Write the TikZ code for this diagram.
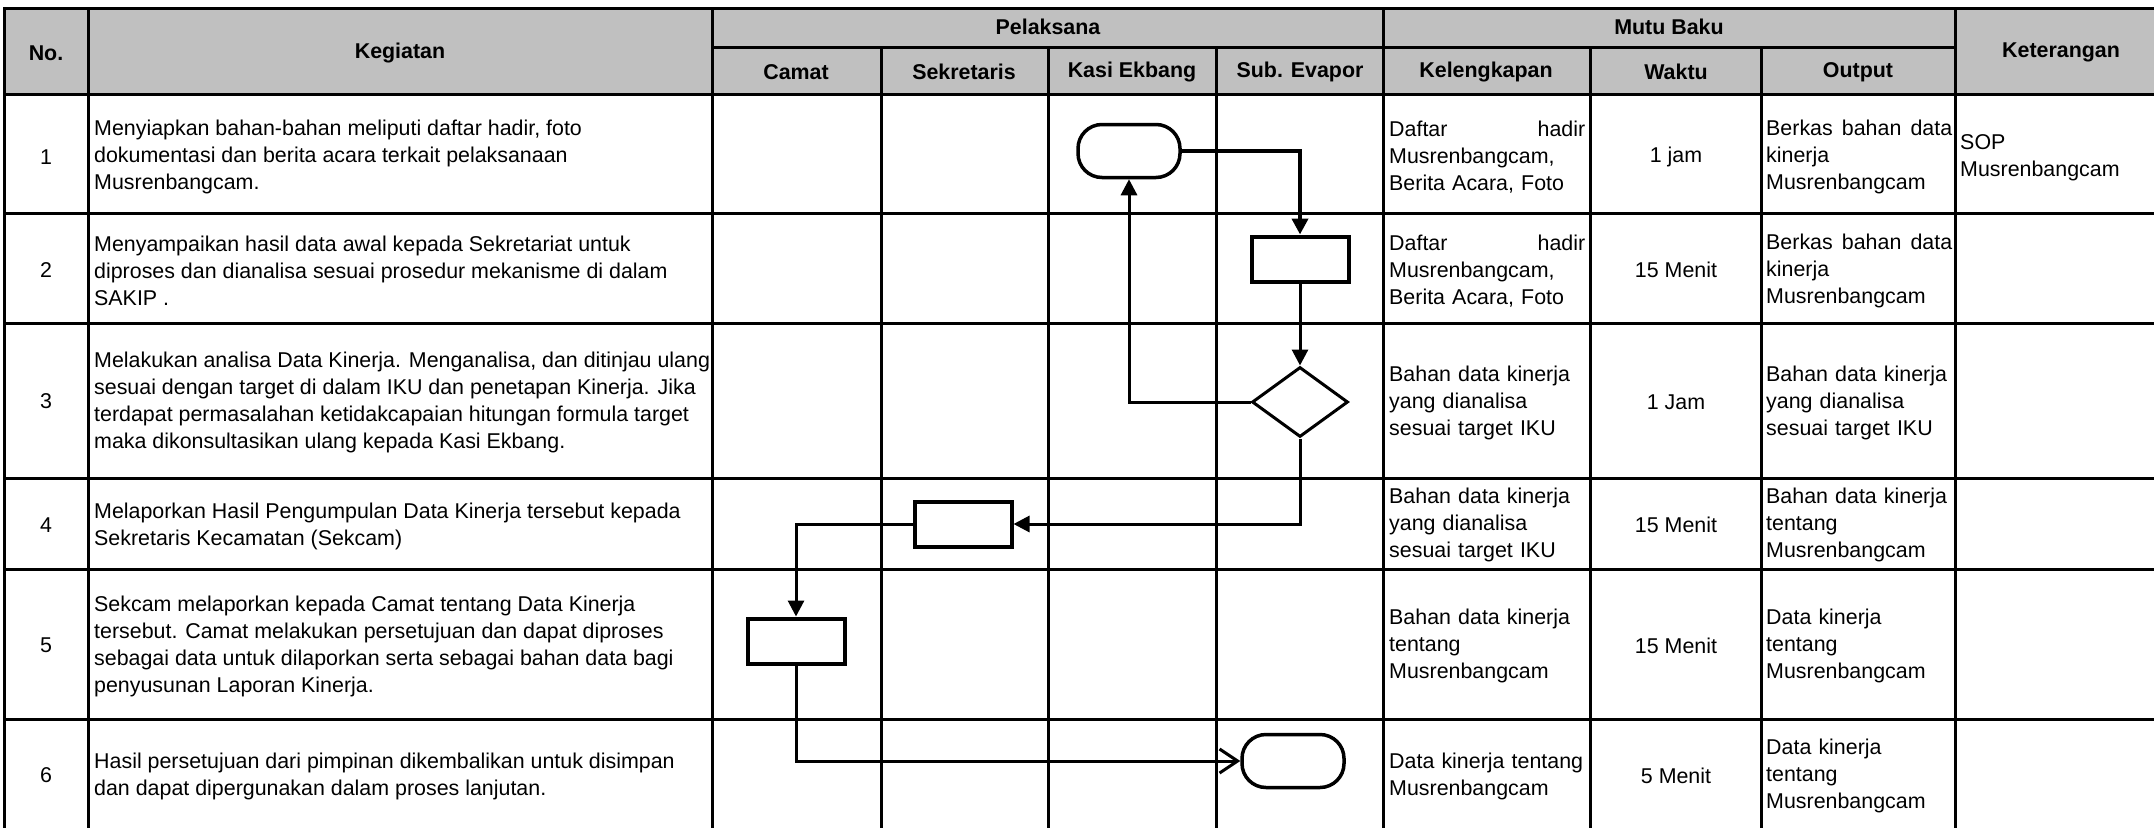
\documentclass[tikz,border=0pt]{standalone}
\usepackage{fontspec}
\setmainfont{Liberation Sans}
\usetikzlibrary{arrows.meta,shapes.geometric}
\definecolor{headgray}{RGB}{192,192,192}
\begin{document}
\begin{tikzpicture}[x=1pt, y=-1pt,
    grid/.style={line width=3pt, line cap=rect},
    txt/.style={font=\fontsize{21.4}{27}\selectfont, inner sep=0pt},
    head/.style={inner sep=0pt, font=\fontsize{21.4}{27}\selectfont\bfseries},
    desc/.style={txt, anchor=west, align=left},
    cell/.style={txt, anchor=west, align=left, text width=#1},
    proc/.style={draw, line width=4pt, minimum width=97pt, minimum height=45pt},
    term/.style={draw, line width=3.5pt, rounded corners=24pt, minimum width=102pt, minimum height=53pt},
    dec/.style={draw, diamond, line width=3pt, minimum width=96pt, minimum height=70pt, inner sep=0pt},
    flow/.style={line width=3pt, -{Triangle[length=16pt,width=16pt]}}]
    \useasboundingbox (0,0) rectangle (2154,827);
    \clip (0,0) rectangle (2154,827);

    % Header
    \fill[headgray] (4.6,8) rectangle (2167,94);
    \draw[grid] (4.6,8) -- (2167,8);
    \draw[grid] (712,47) -- (1955,47);
    \foreach \y in {94,213,323,478,569,719,832} \draw[grid] (4.6,\y) -- (2167,\y);
    \foreach \x in {4.6,88,712,1383,1955,2167} \draw[grid] (\x,8) -- (\x,832);
    \foreach \x in {881,1048,1216,1590,1761} \draw[grid] (\x,47) -- (\x,832);

    \node[head] (hno) at (46,53) {No.};
    \node[head] (hkeg) at (400,53) {Kegiatan};
    \node[head] (hpel) at (1048,27) {Pelaksana};
    \node[head] (hcamat) at (796,72) {Camat};
    \node[head] (hsek) at (964,72) {Sekretaris};
    \node[head] (hkasi) at (1132,72) {Kasi Ekbang};
    \node[head] (hsub) at (1300,72) {Sub. Evapor};
    \node[head] (hmutu) at (1669,27) {Mutu Baku};
    \node[head] (hkel) at (1486,72) {Kelengkapan};
    \node[head] (hwak) at (1676,72) {Waktu};
    \node[head] (hout) at (1858,72) {Output};
    \node[head] (hket) at (2061,52) {Keterangan};

    % No.
    \node[txt] (n1) at (46,157) {1};
    \node[txt] (n2) at (46,270) {2};
    \node[txt] (n3) at (46,401) {3};
    \node[txt] (n4) at (46,525) {4};
    \node[txt] (n5) at (46,645) {5};
    \node[txt] (n6) at (46,775) {6};

    % Kegiatan
    \node[desc] (k1) at (94,157) {Menyiapkan bahan-bahan meliputi daftar hadir, foto\\dokumentasi dan berita acara terkait pelaksanaan\\Musrenbangcam.};
    \node[desc] (k2) at (94,271) {Menyampaikan hasil data awal kepada Sekretariat untuk\\diproses dan dianalisa sesuai prosedur mekanisme di dalam\\SAKIP .};
    \node[desc] (k3) at (94,402) {Melakukan analisa Data Kinerja. Menganalisa, dan ditinjau ulang\\sesuai dengan target di dalam IKU dan penetapan Kinerja. Jika\\terdapat permasalahan ketidakcapaian hitungan formula target\\maka dikonsultasikan ulang kepada Kasi Ekbang.};
    \node[desc] (k4) at (94,526) {Melaporkan Hasil Pengumpulan Data Kinerja tersebut kepada\\Sekretaris Kecamatan (Sekcam)};
    \node[desc] (k5) at (94,646) {Sekcam melaporkan kepada Camat tentang Data Kinerja\\tersebut. Camat melakukan persetujuan dan dapat diproses\\sebagai data untuk dilaporkan serta sebagai bahan data bagi\\penyusunan Laporan Kinerja.};
    \node[desc] (k6) at (94,776) {Hasil persetujuan dari pimpinan dikembalikan untuk disimpan\\dan dapat dipergunakan dalam proses lanjutan.};

    % Kelengkapan
    \node[cell=196pt] (l1) at (1389,157) {Daftar\hfill hadir\\Musrenbangcam,\\Berita Acara, Foto};
    \node[cell=196pt] (l2) at (1389,271) {Daftar\hfill hadir\\Musrenbangcam,\\Berita Acara, Foto};
    \node[cell=196pt] (l3) at (1389,403) {Bahan data kinerja\\yang dianalisa\\sesuai target IKU};
    \node[cell=196pt] (l4) at (1389,525) {Bahan data kinerja\\yang dianalisa\\sesuai target IKU};
    \node[cell=196pt] (l5) at (1389,646) {Bahan data kinerja\\tentang\\Musrenbangcam};
    \node[cell=196pt] (l6) at (1389,776) {Data kinerja tentang\\Musrenbangcam};

    % Waktu
    \node[txt] (w1) at (1676,157) {1 jam};
    \node[txt] (w2) at (1676,270) {15 Menit};
    \node[txt] (w3) at (1676,402) {1 Jam};
    \node[txt] (w4) at (1676,525) {15 Menit};
    \node[txt] (w5) at (1676,646) {15 Menit};
    \node[txt] (w6) at (1676,776) {5 Menit};

    % Output
    \node[cell=186pt] (o1) at (1766,157) {Berkas\hfill bahan\hfill data\\kinerja\\Musrenbangcam};
    \node[cell=186pt] (o2) at (1766,271) {Berkas\hfill bahan\hfill data\\kinerja\\Musrenbangcam};
    \node[cell=186pt] (o3) at (1766,403) {Bahan data kinerja\\yang dianalisa\\sesuai target IKU};
    \node[cell=186pt] (o4) at (1766,525) {Bahan data kinerja\\tentang\\Musrenbangcam};
    \node[cell=186pt] (o5) at (1766,646) {Data kinerja\\tentang\\Musrenbangcam};
    \node[cell=186pt] (o6) at (1766,776) {Data kinerja\\tentang\\Musrenbangcam};

    % Keterangan
    \node[desc] (ket1) at (1960,158) {SOP\\Musrenbangcam};

    % Flow
    \node[term] (start) at (1129,151) {};
    \node[proc] (sub2) at (1300,259) {};
    \node[dec] (cek3) at (1300,402) {};
    \node[proc] (sek4) at (963,524) {};
    \node[proc] (camat5) at (796,641) {};
    \node[term] (end6) at (1293,761) {};

    \draw[flow, line width=4pt] (start.east) -| (sub2.north);
    \draw[flow] (sub2.south) -- (cek3.north);
    \draw[flow] (cek3.west) -| (start.south);
    \draw[flow] (cek3.south) |- (sek4.east);
    \draw[flow] (sek4.west) -| (camat5.north);
    \draw[line width=3pt, -{Straight Barb[length=18pt,width=24pt]}] (camat5.south) |- (end6.west);
\end{tikzpicture}
\end{document}
